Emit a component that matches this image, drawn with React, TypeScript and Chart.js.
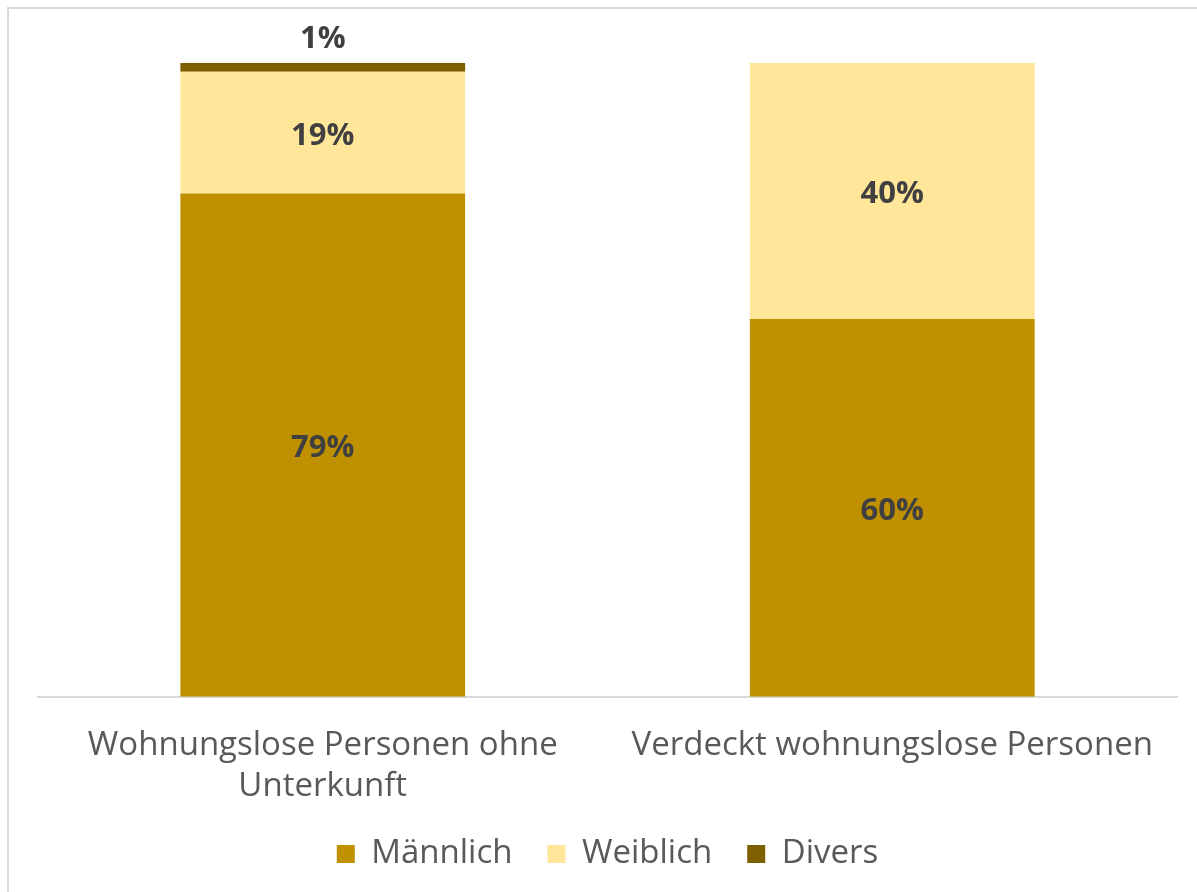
import React, { useEffect, useRef } from "react";
import { Chart, registerables } from "chart.js";

Chart.register(...registerables);

const categories: (string | string[])[] = [
  ["Wohnungslose Personen ohne", "Unterkunft"],
  "Verdeckt wohnungslose Personen",
];
const maennlich = [79.4, 59.6];
const weiblich = [19.2, 40.4];
const divers = [1.4, 0];
const seriesNames = ["Männlich", "Weiblich", "Divers"];
const seriesColors = ["#BF9000", "#FFE699", "#7F6000"];

const FONT = "'Open Sans', 'Noto Sans', sans-serif";

const labelPlugin = {
  id: "barLabels",
  afterDatasetsDraw(chart: any) {
    const ctx = chart.ctx;
    ctx.save();
    ctx.font = `bold 31px ${FONT}`;
    ctx.fillStyle = "#404040";
    ctx.textAlign = "center";
    ctx.textBaseline = "middle";
    chart.data.datasets.forEach((ds: any, di: number) => {
      const meta = chart.getDatasetMeta(di);
      meta.data.forEach((el: any, i: number) => {
        const v = ds.data[i];
        if (!v) return;
        const txt = Math.round(v) + "%";
        if (ds.label === "Divers") {
          ctx.fillText(txt, el.x, el.y - 24);
        } else {
          ctx.fillText(txt, el.x, (el.y + el.base) / 2 + 3);
        }
      });
    });
    ctx.restore();
  },
};

export default function App() {
  const ref = useRef<HTMLCanvasElement | null>(null);
  useEffect(() => {
    if (!ref.current) return;
    const chart = new Chart(ref.current, {
      type: "bar",
      data: {
        labels: categories,
        datasets: [
          { label: seriesNames[0], data: maennlich, backgroundColor: seriesColors[0] },
          { label: seriesNames[1], data: weiblich, backgroundColor: seriesColors[1] },
          { label: seriesNames[2], data: divers, backgroundColor: seriesColors[2] },
        ],
      },
      options: {
        animation: false,
        responsive: false,
        maintainAspectRatio: false,
        layout: { padding: { top: 63, left: 38, right: 20, bottom: 11.5 } },
        datasets: { bar: { categoryPercentage: 1, barPercentage: 0.5 } },
        scales: {
          x: {
            stacked: true,
            grid: { display: false, tickLength: 33 },
            border: { display: true, color: "#D9D9D9", width: 2 },
            ticks: {
              color: "#595959",
              font: { family: FONT, size: 33, lineHeight: 1.26 },
              padding: -5.2,
              maxRotation: 0,
              autoSkip: false,
            },
          },
          y: {
            stacked: true,
            display: false,
            min: 0,
            max: 100,
          },
        },
        plugins: {
          legend: {
            position: "bottom",
            labels: {
              boxWidth: 18,
              boxHeight: 18,
              padding: 35,
              color: "#595959",
              font: { family: FONT, size: 33 },
            },
          },
          tooltip: { enabled: false },
        },
      },
      plugins: [labelPlugin],
    });
    return () => chart.destroy();
  }, []);

  return (
    <div style={{ position: "fixed", left: 0, top: 0, width: 1197, height: 892, overflow: "hidden", background: "#fff" }}>
      <div
        style={{
          position: "absolute",
          left: 7,
          top: 7,
          width: 1300,
          height: 1000,
          borderTop: "2px solid #D9D9D9",
          borderLeft: "2px solid #D9D9D9",
        }}
      />
      <canvas ref={ref} width={1197} height={892} style={{ position: "absolute", left: 0, top: 0 }} />
    </div>
  );
}
